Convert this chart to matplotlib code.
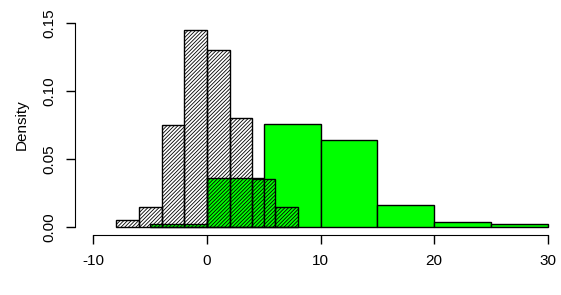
import numpy as np
import matplotlib
matplotlib.use("Agg")
import matplotlib.pyplot as plt

# first sample: hatched histogram (bin edges width 2)
breaks_a = [-8, -6, -4, -2, 0, 2, 4, 6, 8]
dens_a = [0.005, 0.015, 0.075, 0.145, 0.13, 0.08, 0.035, 0.015]

# second sample: green histogram (bin edges width 5)
breaks_b = [-5, 0, 5, 10, 15, 20, 25, 30]
dens_b = [0.002, 0.036, 0.076, 0.064, 0.016, 0.004, 0.002]

xticks = [-10, 0, 10, 20, 30]
yticks = [0.00, 0.05, 0.10, 0.15]

plt.rcParams['font.family'] = ['Liberation Sans', 'DejaVu Sans']
plt.rcParams['hatch.linewidth'] = 0.6

fig = plt.figure(figsize=(5.61, 2.95), dpi=100)
ax = fig.add_axes([0.134, 0.2027, 0.866, 0.748])

wb = np.diff(breaks_b)
ax.bar(breaks_b[:-1], dens_b, width=wb, align='edge', color='#00ff00',
       edgecolor='black', linewidth=1.0)

wa = np.diff(breaks_a)
ax.bar(breaks_a[:-1], dens_a, width=wa, align='edge', facecolor='none',
       edgecolor='black', linewidth=1.0, hatch='/////////')

ax.set_xlim(-11.6, 31.16)
ax.set_ylim(-0.006, 0.156)

for s in ['top', 'right']:
    ax.spines[s].set_visible(False)
ax.spines['left'].set_bounds(0, 0.15)
ax.spines['bottom'].set_bounds(-10, 30)

ax.set_xticks(xticks)
ax.set_xticklabels([str(t) for t in xticks])
ax.set_yticks(yticks)
ax.set_yticklabels(['%.2f' % t for t in yticks], rotation=90, va='center')
ax.tick_params(direction='out', length=6.5, width=1, labelsize=11, pad=7)
ax.set_ylabel('Density', fontsize=11, labelpad=10)

fig.savefig('out.png', dpi=100)
